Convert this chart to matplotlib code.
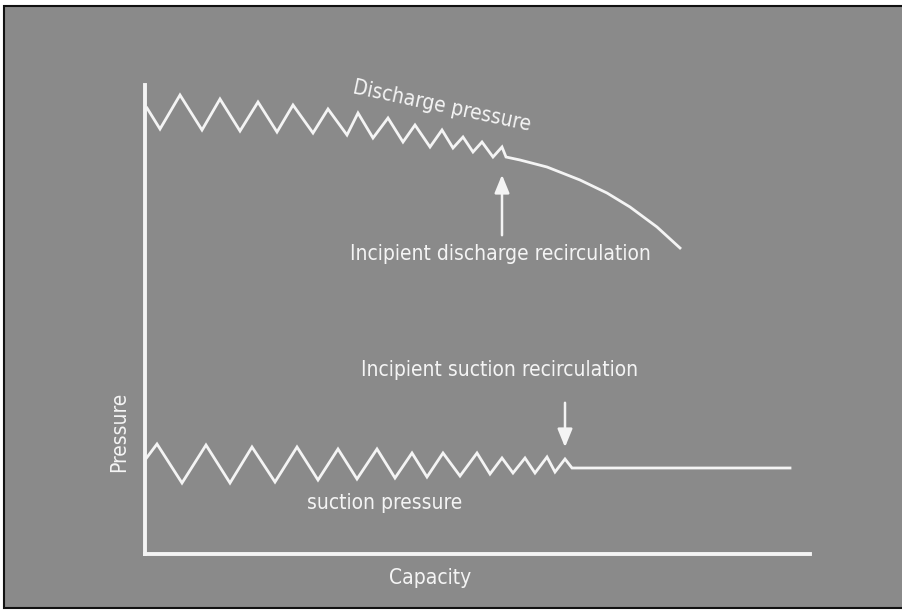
import matplotlib
matplotlib.use('Agg')
import matplotlib.pyplot as plt
from matplotlib.patches import Rectangle

plt.rcParams['font.family'] = ['DejaVu Sans']
plt.rcParams['font.stretch'] = 'condensed'

# schematic curves, capacity vs pressure (arbitrary units)
dischargeCap = [2, 15, 35, 57, 75, 95, 113, 132, 148, 168, 183, 202, 213, 228, 243, 258, 270,
                285, 297, 308, 318, 328, 337, 348, 357, 361, 375, 402, 435, 462, 485, 512, 535]
dischargeP = [446, 425, 459, 424, 455, 423, 452, 422, 449, 421, 445, 419, 441, 416, 436, 412, 429,
              407, 424, 406, 417, 402, 412, 397, 407, 397, 394, 387, 374, 361, 347, 327, 306]

suctionCap = [0, 12, 37, 61, 85, 107, 130, 152, 173, 193, 212, 232, 250, 267, 282, 298, 315,
              332, 345, 357, 368, 380, 390, 402, 410, 420, 427, 645]
suctionP = [94, 110, 71, 109, 71, 107, 72, 107, 74, 105, 75, 105, 76, 101, 77, 101, 78,
            101, 80, 96, 81, 96, 81, 97, 82, 95, 86, 86]

dischargeRecirc = (357, 386)
suctionRecirc = (420, 101)

bg = '#8a8a8a'
fg = '#f4f4f4'

fig = plt.figure(figsize=(9.02, 6.11), dpi=100, facecolor='white')
frame = Rectangle((4 / 902, 3 / 611), 1.0, 602 / 611, transform=fig.transFigure,
                  facecolor=bg, edgecolor='#111111', linewidth=1.5, zorder=-10)
fig.add_artist(frame)

ax = fig.add_axes([145 / 902, 57 / 611, 665 / 902, 469 / 611])
ax.set_zorder(5)
ax.set_facecolor('none')
ax.set_xlim(0, 665)
ax.set_ylim(0, 469)
for side in ['top', 'right']:
    ax.spines[side].set_visible(False)
for side in ['left', 'bottom']:
    ax.spines[side].set_color(fg)
    ax.spines[side].set_linewidth(2.8)
ax.set_xticks([])
ax.set_yticks([])

ax.plot(dischargeCap, dischargeP, color=fg, lw=2.0, solid_joinstyle='miter')
ax.plot(suctionCap, suctionP, color=fg, lw=2.0, solid_joinstyle='miter')

arrowStyle = dict(arrowstyle='-|>,head_length=1.1,head_width=0.45', color=fg, lw=1.8)
ax.annotate('', xy=(dischargeRecirc[0], dischargeRecirc[1] - 4),
            xytext=(dischargeRecirc[0], dischargeRecirc[1] - 70), arrowprops=arrowStyle)
ax.annotate('', xy=(suctionRecirc[0], suctionRecirc[1] + 3),
            xytext=(suctionRecirc[0], suctionRecirc[1] + 53), arrowprops=arrowStyle)

fs = 15
ax.text(297, 448, 'Discharge pressure', color=fg, fontsize=fs, rotation=-12,
        ha='center', va='center', rotation_mode='anchor')
ax.text(355, 300, 'Incipient discharge recirculation', color=fg, fontsize=fs,
        ha='center', va='center')
ax.text(355, 184, 'Incipient suction recirculation', color=fg, fontsize=fs,
        ha='center', va='center')
ax.text(240, 51, 'suction pressure', color=fg, fontsize=fs, ha='center', va='center')
ax.text(-26, 122, 'Pressure', color=fg, fontsize=fs, rotation=90, ha='center', va='center')
ax.text(285, -24, 'Capacity', color=fg, fontsize=fs, ha='center', va='center')

fig.savefig('out.png', dpi=100, facecolor=fig.get_facecolor())
